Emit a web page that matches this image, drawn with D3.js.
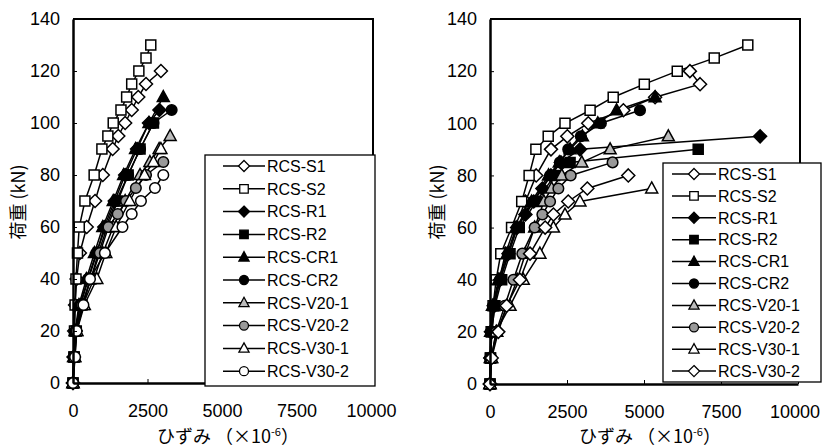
<!DOCTYPE html>
<html>
<head>
<meta charset="utf-8">
<script src="https://cdn.jsdelivr.net/npm/d3@7"></script>
<style>
  body { margin: 0; background: #fff; }
  svg { display: block; font-family: "Liberation Sans", Arial, sans-serif; }
  .axis text { font-size: 18px; fill: #000; }
  .axis .domain { stroke: #000; stroke-width: 2.5; }
  .axis .tick line { stroke: #000; stroke-width: 1; }
  .axis-title { font-family: "Noto Sans CJK JP", sans-serif; font-size: 18px; fill: #000; }
  .legend text { font-size: 16px; fill: #000; }
</style>
</head>
<body>
<svg id="chart" width="822" height="448"></svg>
<script>
// [strain (x10^-6), load (kN)]
const leftS1 = [[0,0],[20,10],[40,20],[70,30],[120,40],[230,50],[460,60],[740,70],[1000,80],[1330,90],[1520,95],[1750,100],[1970,105],[2190,110],[2450,115],[2950,120]];
const leftS2 = [[0,0],[30,10],[50,20],[70,30],[100,40],[150,50],[210,60],[400,70],[710,80],[970,90],[1170,95],[1350,100],[1610,105],[1800,110],[1970,115],[2210,120],[2450,125],[2610,130]];
const leftR1 = [[0,0],[30,10],[90,20],[250,30],[520,40],[800,50],[1050,60],[1400,70],[1750,80],[2150,90],[2550,100],[2900,105]];
const leftR2 = [[0,0],[40,10],[110,20],[300,30],[600,40],[850,50],[1150,60],[1500,70],[1850,80],[2250,90],[2700,100]];
const leftCR1 = [[0,0],[20,10],[70,20],[200,30],[450,40],[720,50],[1000,60],[1350,70],[1700,80],[2100,90],[2550,100],[3030,110]];
const leftCR2 = [[0,0],[30,10],[80,20],[230,30],[500,40],[780,50],[1100,60],[1450,70],[1850,80],[2250,90],[2700,100],[3310,105]];
const leftV201 = [[0,0],[50,10],[120,20],[330,30],[700,40],[1000,50],[1350,60],[1750,70],[2250,80],[2580,85],[2890,90],[3260,95]];
const leftV202 = [[0,0],[40,10],[110,20],[300,30],[600,40],[900,50],[1190,60],[1500,65],[1780,70],[2110,75],[2450,80],[3030,85]];
const leftV301 = [[0,0],[60,10],[130,20],[380,30],[800,40],[1100,50],[1450,60],[1900,70],[2400,80],[2700,85],[2950,90]];
const leftV302 = [[0,0],[70,10],[120,20],[350,30],[570,40],[1070,50],[1660,60],[1970,65],[2280,70],[2750,75],[3030,80]];

const rightS1 = [[0,0],[20,10],[60,20],[150,30],[300,40],[500,50],[800,60],[1150,70],[1500,80],[1980,90],[2510,95],[3190,100],[4330,105],[5360,110],[6820,115],[6490,120]];
const rightS2 = [[0,0],[10,10],[40,20],[100,30],[200,40],[350,50],[700,60],[1030,70],[1270,80],[1490,90],[1890,95],[2435,100],[3250,105],[4000,110],[5010,115],[6080,120],[7280,125],[8370,130]];
const rightR1 = [[0,0],[10,10],[30,20],[120,30],[330,40],[600,50],[880,60],[1150,65],[1420,70],[1700,75],[1980,80],[2300,85],[2920,90],[8770,95]];
const rightR2 = [[0,0],[20,10],[50,20],[160,30],[380,40],[650,50],[950,60],[1500,70],[2100,80],[2600,85],[6760,90]];
const rightCR1 = [[0,0],[10,10],[20,20],[80,30],[280,40],[560,50],[850,60],[1350,70],[1900,80],[2250,85],[2600,90],[3000,95],[3500,100],[4110,105],[5360,110]];
const rightCR2 = [[0,0],[10,10],[30,20],[100,30],[320,40],[600,50],[880,60],[1400,70],[1950,80],[2270,85],[2540,90],[2950,95],[3600,100],[4870,105]];
const rightV201 = [[0,0],[50,10],[220,20],[560,30],[880,40],[1150,50],[1450,60],[1750,70],[2000,75],[2330,80],[2980,85],[3900,90],[5790,95]];
const rightV202 = [[0,0],[40,10],[200,20],[480,30],[760,40],[1050,50],[1450,60],[1700,65],[1950,70],[2220,75],[2620,80],[3980,85]];
const rightV301 = [[0,0],[50,10],[200,20],[650,30],[1080,40],[1620,50],[2060,60],[2435,65],[2920,70],[5250,75]];
const rightV302 = [[0,0],[55,10],[270,20],[540,30],[970,40],[1300,50],[1790,60],[2060,65],[2540,70],[3160,75],[4490,80]];

const names = ["RCS-S1","RCS-S2","RCS-R1","RCS-R2","RCS-CR1","RCS-CR2","RCS-V20-1","RCS-V20-2","RCS-V30-1","RCS-V30-2"];
const yTicks = [0,20,40,60,80,100,120,140];
const xTicks = [0,2500,5000,7500,10000];

// marker style per series: [shape, fill]
const leftMarkers = [["diamond","#fff"],["square","#fff"],["diamond","#000"],["square","#000"],["triangle","#000"],["circle","#000"],["triangle","#bbb"],["circle","#999"],["triangle","#fff"],["circle","#fff"]];
const rightMarkers = [["diamond","#fff"],["square","#fff"],["diamond","#000"],["square","#000"],["triangle","#000"],["circle","#000"],["triangle","#bbb"],["circle","#999"],["triangle","#fff"],["diamond","#fff"]];

function markerPath(shape) {
  if (shape === "diamond") return "M0,-6.5L6.5,0L0,6.5L-6.5,0Z";
  if (shape === "square") return "M-5,-5H5V5H-5Z";
  if (shape === "triangle") return "M0,-6.5L6,4.5H-6Z";
  return "M5.3,0A5.3,5.3 0 1,1 -5.3,0A5.3,5.3 0 1,1 5.3,0Z";
}

function renderPanel({ svg, series, markers, left, right, top, bottom, yTitleX, legend }) {
  const x = d3.scaleLinear().domain([0, 10000]).range([left, right]);
  const y = d3.scaleLinear().domain([0, 140]).range([bottom, top]);
  const g = svg.append("g");

  // frame (top + right)
  g.append("path")
    .attr("d", `M${left},${top}H${right + 2}V${legend.y}`)
    .attr("fill", "none")
    .attr("stroke", "#000")
    .attr("stroke-width", 2);

  const line = d3.line().x((d) => x(d[0])).y((d) => y(d[1]));

  series.forEach((s) => {
    g.append("path")
      .attr("d", line(s))
      .attr("fill", "none")
      .attr("stroke", "#000")
      .attr("stroke-width", 1.5);
  });
  series.forEach((s, i) => {
    g.append("g")
      .selectAll("path")
      .data(s)
      .join("path")
      .attr("transform", (d) => `translate(${x(d[0])},${y(d[1])})`)
      .attr("d", markerPath(markers[i][0]))
      .attr("fill", markers[i][1])
      .attr("stroke", "#000")
      .attr("stroke-width", 1.5);
  });

  g.append("g")
    .attr("class", "axis")
    .attr("transform", `translate(${left},0)`)
    .call(d3.axisLeft(y).tickValues(yTicks).tickSize(-4).tickSizeOuter(0).tickPadding(13));

  const xAxisG = g.append("g")
    .attr("class", "axis")
    .attr("transform", `translate(0,${bottom})`)
    .call(d3.axisBottom(x).tickValues(xTicks).tickFormat(d3.format("d")).tickSize(-4).tickSizeOuter(0).tickPadding(21));

  // keep the last label inside the picture
  xAxisG.selectAll(".tick text").each(function () {
    const box = this.getBoundingClientRect();
    if (box.right > 821) d3.select(this).attr("dx", 820 - box.right);
  });

  // legend
  const lg = g.append("g").attr("class", "legend");
  lg.append("rect")
    .attr("x", legend.x)
    .attr("y", legend.y)
    .attr("width", legend.w)
    .attr("height", legend.h)
    .attr("fill", "#fff")
    .attr("stroke", "#000")
    .attr("stroke-width", 1.3);
  names.forEach((n, i) => {
    const cy = legend.first + i * legend.step;
    lg.append("line")
      .attr("x1", legend.x + legend.lx0)
      .attr("x2", legend.x + legend.lx1)
      .attr("y1", cy)
      .attr("y2", cy)
      .attr("stroke", "#000")
      .attr("stroke-width", 1.5);
    lg.append("path")
      .attr("transform", `translate(${legend.x + (legend.lx0 + legend.lx1) / 2},${cy}) scale(0.85)`)
      .attr("d", markerPath(markers[i][0]))
      .attr("fill", markers[i][1])
      .attr("stroke", "#000")
      .attr("stroke-width", 1.5);
    lg.append("text")
      .attr("x", legend.x + legend.lx1 + 2)
      .attr("y", cy)
      .attr("dy", "0.36em")
      .text(n);
  });

  // titles
  g.append("text")
    .attr("class", "axis-title")
    .attr("text-anchor", "middle")
    .attr("transform", `translate(${yTitleX},202)rotate(-90)`)
    .attr("dy", "0.35em")
    .text("荷重 (kN)");

  const xt = g.append("text")
    .attr("class", "axis-title")
    .attr("text-anchor", "middle")
    .attr("x", (left + right) / 2 + 6)
    .attr("y", 443);
  xt.append("tspan").text("ひずみ （×10");
  xt.append("tspan").attr("dy", -7).attr("font-size", 11).text("-6");
  xt.append("tspan").attr("dy", 7).text("）");
}

const svg = d3.select("#chart");

renderPanel({
  svg,
  series: [leftS1, leftS2, leftR1, leftR2, leftCR1, leftCR2, leftV201, leftV202, leftV301, leftV302],
  markers: leftMarkers,
  left: 73, right: 371, top: 19, bottom: 383,
  yTitleX: 19,
  legend: { x: 205, y: 155, w: 170, h: 231, first: 166, step: 22.8, lx0: 18, lx1: 60 },
});

renderPanel({
  svg,
  series: [rightS1, rightS2, rightR1, rightR2, rightCR1, rightCR2, rightV201, rightV202, rightV301, rightV302],
  markers: rightMarkers,
  left: 490, right: 798, top: 19, bottom: 384,
  yTitleX: 438,
  legend: { x: 663, y: 163, w: 158, h: 219, first: 174, step: 21.9, lx0: 9, lx1: 53 },
});
</script>
</body>
</html>
